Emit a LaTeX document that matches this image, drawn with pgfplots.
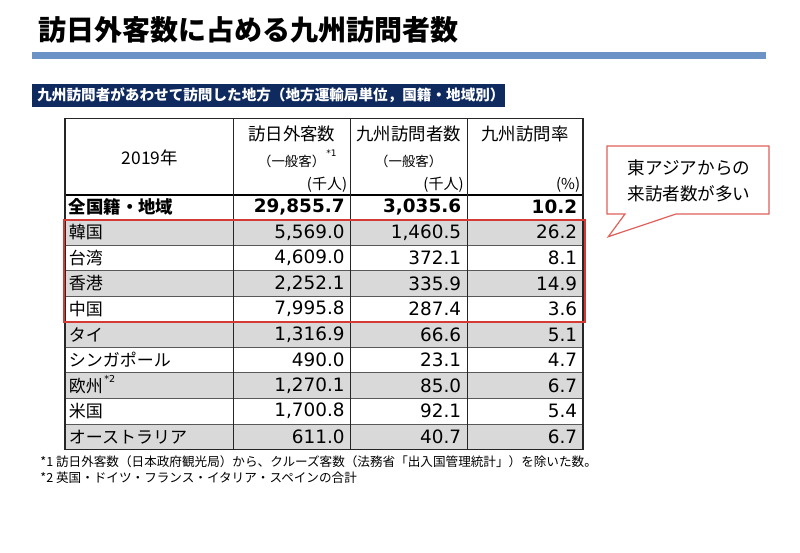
\documentclass[border=0pt]{standalone}
\usepackage{fontspec}
\setmainfont{Noto Sans CJK JP}
\newfontfamily\numfont{DejaVu Sans}
\usepackage{pgfplots}
\pgfplotsset{compat=1.18}
\usepackage{pgfplotstable}

\definecolor{barblue}{HTML}{6C93C6}
\definecolor{navy}{HTML}{0F2A5F}
\definecolor{rowgray}{HTML}{D9D9D9}
\definecolor{boxred}{HTML}{D63A35}
\definecolor{callred}{HTML}{E0605A}

% 2019年, 千人 / %
\pgfplotstableread{
row name a b c
0 全国籍・地域 29855.7 3035.6 10.2
}\total
\pgfplotstableread{
row name a b c
1 韓国 5569.0 1460.5 26.2
2 台湾 4609.0 372.1 8.1
3 香港 2252.1 335.9 14.9
4 中国 7995.8 287.4 3.6
5 タイ 1316.9 66.6 5.1
6 シンガポール 490.0 23.1 4.7
7 欧州 1270.1 85.0 6.7
8 米国 1700.8 92.1 5.4
9 オーストラリア 611.0 40.7 6.7
}\rows

\pgfplotsset{
  num/.style={draw=none, nodes near coords, point meta=explicit,
    nodes near coords={\pgfmathprintnumber[fixed, fixed zerofill, precision=1,
      1000 sep={,}, assume math mode=true]{\pgfplotspointmeta}},
    every node near coord/.append style={anchor=east, inner sep=0pt,
      font=\numfont\fontsize{9.2}{11}\selectfont}},
  lbl/.style={draw=none, nodes near coords, point meta=explicit symbolic,
    every node near coord/.append style={anchor=west, inner sep=0pt,
      font=\fontsize{8.5}{10}\selectfont}},
}
\newcommand{\rowy}{219.5+(\thisrow{row}-0.5)*25.56}

\begin{document}
\begin{tikzpicture}
\begin{axis}[width=400pt, height=276.5pt, scale only axis,
  xmin=0, xmax=800, ymin=0, ymax=553, y dir=reverse,
  hide axis, clip=false]

% title and header bars
\node[anchor=west, inner sep=0pt, font=\fontsize{14}{16}\selectfont\bfseries]
  at (38,30) {訪日外客数に占める九州訪問者数};
\fill[barblue] (32,52) rectangle (766,59);
\fill[navy] (32,83.5) rectangle (505,106.5);
\node[anchor=west, inner sep=0pt, text=white, font=\fontsize{7.3}{8}\selectfont\bfseries]
  at (37,95) {九州訪問者があわせて訪問した地方（地方運輸局単位，国籍・地域別）};

% row shading
\pgfplotsinvokeforeach{1,3,5,7,9}{
  \fill[rowgray] (65,{219.5+(#1-1)*25.56}) rectangle (583,{219.5+#1*25.56});
}
% row rules
\pgfplotsinvokeforeach{1,...,8}{
  \draw[black!65, line width=0.4pt] (65,{219.5+#1*25.56}) -- (583,{219.5+#1*25.56});
}
\draw[black, line width=0.5pt] (65,219.5) -- (583,219.5);
\draw[black, line width=1.1pt] (65,195) -- (583,195);
% columns
\pgfplotsinvokeforeach{233,350.5,467}{
  \draw[black!85, line width=0.5pt] (#1,118.3) -- (#1,449.5);
}
\draw[black!85, line width=0.7pt] (65,118.3) rectangle (583,449.5);
% red highlight
\draw[boxred, line width=1pt] (63.5,219.5) rectangle (584.5,{219.5+4*25.56});

% header text
\node[font=\fontsize{8.7}{10}\selectfont] at (150,158) {2019年};
\node[font=\fontsize{8.7}{10}\selectfont] at (291.7,134) {訪日外客数};
\node[font=\fontsize{6.7}{8}\selectfont] at (291.7,161) {（一般客）};
\node[anchor=west, inner sep=0pt, font=\numfont\fontsize{4.5}{5}\selectfont] at (326,153) {*1};
\node[anchor=east, inner sep=0pt, font=\fontsize{7.5}{8}\selectfont] at (347.5,185) {(千人)};
\node[font=\fontsize{8.7}{10}\selectfont] at (408.7,134) {九州訪問者数};
\node[font=\fontsize{6.7}{8}\selectfont] at (408.7,161) {（一般客）};
\node[anchor=east, inner sep=0pt, font=\fontsize{7.5}{8}\selectfont] at (464,185) {(千人)};
\node[font=\fontsize{8.7}{10}\selectfont] at (525,134) {九州訪問率};
\node[anchor=east, inner sep=0pt, font=\fontsize{7.5}{8}\selectfont] at (580.5,185) {(\%)};

% total row
\addplot[lbl, every node near coord/.append style={font=\fontsize{8.7}{10}\selectfont\bfseries}]
  table[x expr=68.5, y expr=\rowy, meta=name] {\total};
\addplot[num, every node near coord/.append style={font=\numfont\fontsize{9.2}{11}\selectfont\bfseries}]
  table[x expr=345, y expr=\rowy, meta=a] {\total};
\addplot[num, every node near coord/.append style={font=\numfont\fontsize{9.2}{11}\selectfont\bfseries}]
  table[x expr=461.5, y expr=\rowy, meta=b] {\total};
\addplot[num, every node near coord/.append style={font=\numfont\fontsize{9.2}{11}\selectfont\bfseries}]
  table[x expr=577.5, y expr=\rowy, meta=c] {\total};

% body rows
\addplot[lbl] table[x expr=68.5, y expr=\rowy, meta=name] {\rows};
\addplot[num] table[x expr=345, y expr=\rowy, meta=a] {\rows};
\addplot[num] table[x expr=461.5, y expr=\rowy, meta=b] {\rows};
\addplot[num] table[x expr=577.5, y expr=\rowy, meta=c] {\rows};
\node[anchor=west, inner sep=0pt, font=\numfont\fontsize{4.8}{5}\selectfont] at (104,378.5) {*2};

% callout
\draw[callred, line width=0.6pt, fill=white]
  (607,146) -- (769,146) -- (769,214) -- (676,214) -- (608.3,236.7) -- (625,214) -- (607,214) -- cycle;
\node[align=center, font=\fontsize{8.8}{13}\selectfont] at (689,181) {東アジアからの\\来訪者数が多い};

% footnotes
\node[anchor=west, inner sep=0pt, font=\fontsize{6.3}{8}\selectfont] at (40,462)
  {*1 訪日外客数（日本政府観光局）から、クルーズ客数（法務省「出入国管理統計」）を除いた数。};
\node[anchor=west, inner sep=0pt, font=\fontsize{6.3}{8}\selectfont] at (40,478)
  {*2 英国・ドイツ・フランス・イタリア・スペインの合計};

\path (0,0) (800,553);
\end{axis}
\end{tikzpicture}
\end{document}
